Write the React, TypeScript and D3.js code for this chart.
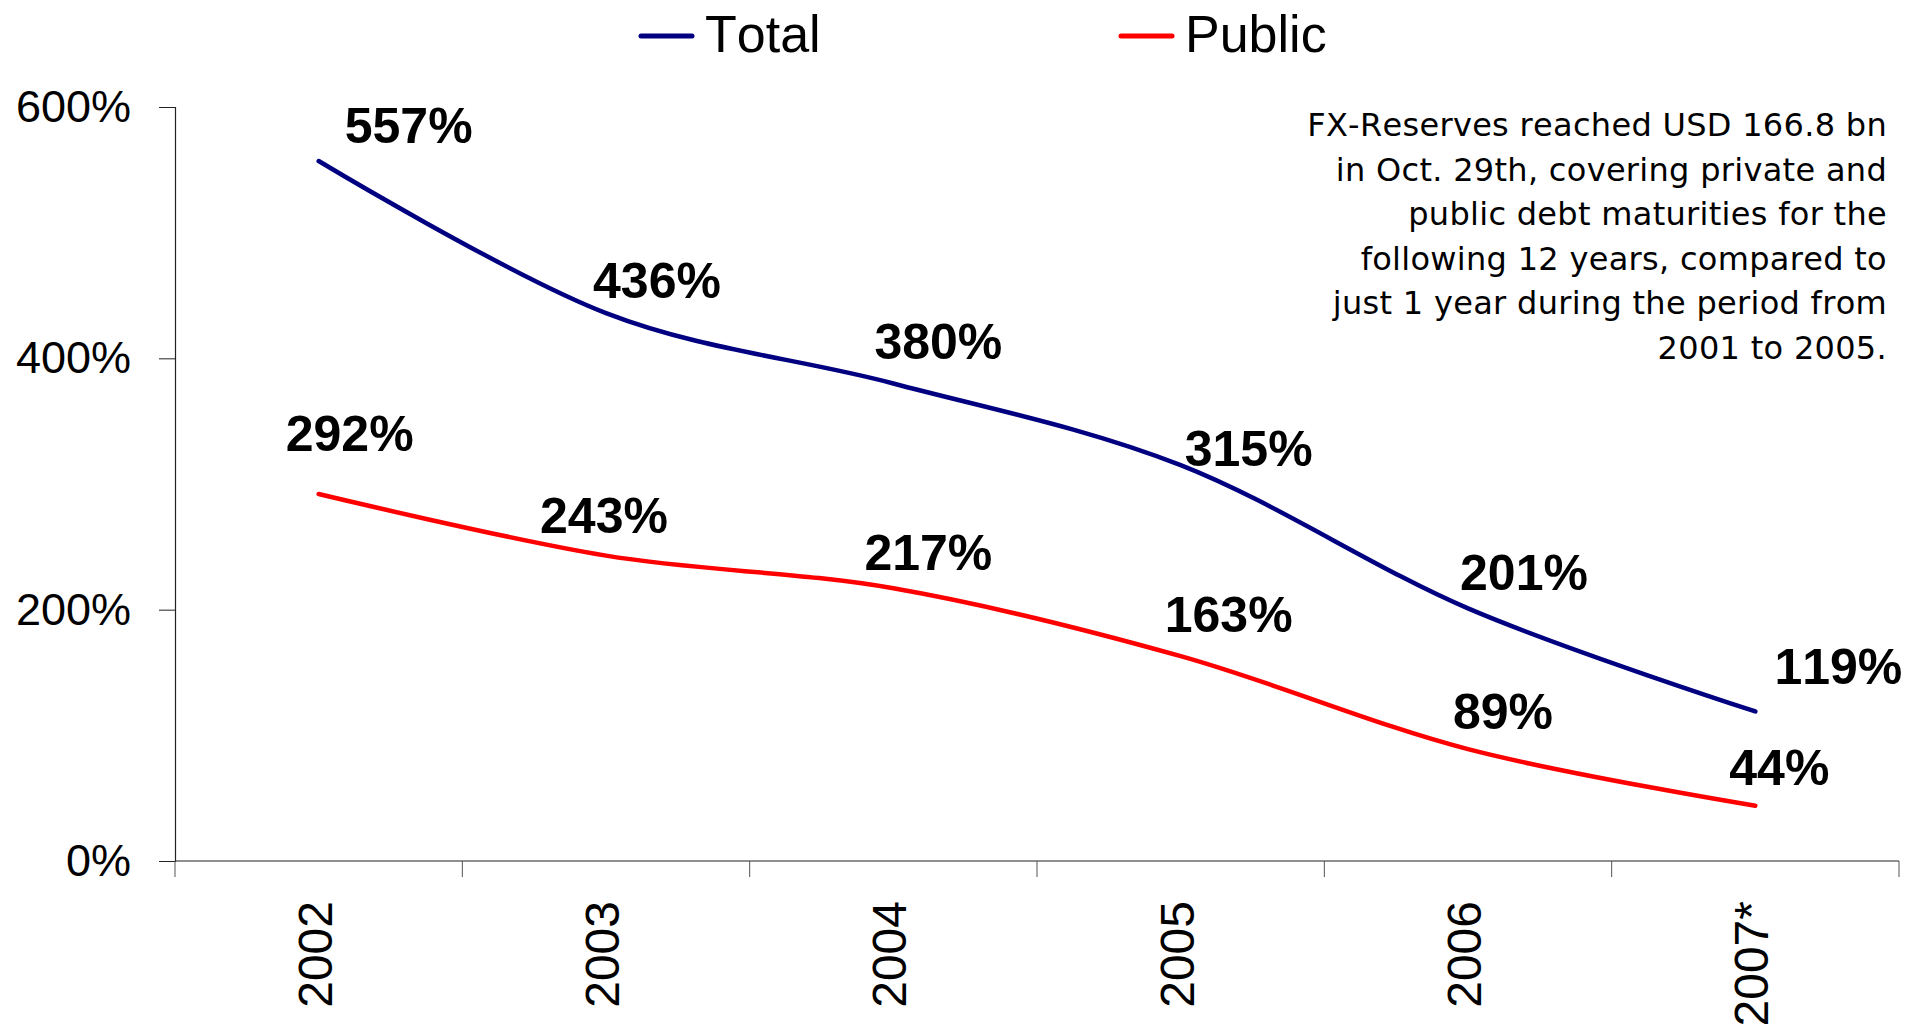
import React, { useEffect, useRef } from "react";
import * as d3 from "d3";

const years = ["2002", "2003", "2004", "2005", "2006", "2007*"];
const totalValues = [557, 436, 380, 315, 201, 119];
const publicValues = [292, 243, 217, 163, 89, 44];
const yTicks = [0, 200, 400, 600];

// label nudges in px (dx, dy from the point)
const totalLabelOffsets = [[90, -18], [51, -15], [45, -24], [68, 1], [56, -18], [83, -27]];
const publicLabelOffsets = [[31, -43], [-2, -23], [35, -18], [48, -24], [35, -20], [24, -21]];

const noteLines = [
  "FX-Reserves reached USD 166.8 bn",
  "in Oct. 29th, covering private and",
  "public debt maturities for the",
  "following 12 years, compared to",
  "just 1 year during the period from",
  "2001 to 2005.",
];

const App = () => {
  const chartRef = useRef(null);

  useEffect(() => {
    const width = 1906;
    const height = 1026;
    const margin = { top: 107, right: 7, bottom: 165, left: 175 };

    d3.select(chartRef.current).selectAll("*").remove();

    const svg = d3
      .select(chartRef.current)
      .append("svg")
      .attr("width", width)
      .attr("height", height)
      .style("display", "block")
      .style("font-family", "'Liberation Sans', Arial, sans-serif")
      .style("font-kerning", "none");

    // Scales
    const xScale = d3.scaleBand().domain(years).range([margin.left, width - margin.right]);
    const yScale = d3.scaleLinear().domain([0, 600]).range([height - margin.bottom, margin.top]);
    const xc = (d) => xScale(d) + xScale.bandwidth() / 2;

    // Y-axis
    const yAxis = svg
      .append("g")
      .attr("transform", `translate(${margin.left}, 0)`)
      .call(d3.axisLeft(yScale).tickValues(yTicks).tickSize(16).tickPadding(28).tickFormat((d) => d + "%"));
    yAxis.select(".domain").attr("stroke", "#222").attr("stroke-width", 1.2);
    yAxis.selectAll(".tick line").attr("stroke", "#222");
    yAxis
      .selectAll(".tick text")
      .attr("font-size", 45)
      .attr("fill", "#000")
      .attr("font-family", "'Liberation Sans', Arial, sans-serif");

    // X-axis, ticks sit on the band edges
    const xAxis = svg.append("g").attr("transform", `translate(0, ${yScale(0)})`);
    xAxis
      .append("line")
      .attr("x1", margin.left)
      .attr("x2", width - margin.right)
      .attr("stroke", "#222")
      .attr("stroke-width", 1.2);
    const edges = years.map((d) => xScale(d)).concat([width - margin.right]);
    xAxis
      .selectAll(".edge")
      .data(edges)
      .enter()
      .append("line")
      .attr("x1", (d) => d)
      .attr("x2", (d) => d)
      .attr("y1", 0)
      .attr("y2", 16)
      .attr("stroke", "#555");
    xAxis
      .selectAll(".lbl")
      .data(years)
      .enter()
      .append("text")
      .attr("transform", (d) => `translate(${xc(d) + 13}, 40) rotate(-90)`)
      .attr("text-anchor", "end")
      .attr("font-size", 48)
      .text((d) => d);

    // Lines
    const line = d3
      .line()
      .x((d, i) => xc(years[i]))
      .y((d) => yScale(d))
      .curve(d3.curveCatmullRom.alpha(0));

    const series = [
      { name: "Total", values: totalValues, color: "#000080", offsets: totalLabelOffsets },
      { name: "Public", values: publicValues, color: "#ff0000", offsets: publicLabelOffsets },
    ];

    series.forEach((s) => {
      svg
        .append("path")
        .datum(s.values)
        .attr("d", line)
        .attr("fill", "none")
        .attr("stroke", s.color)
        .attr("stroke-width", 4.5)
        .attr("stroke-linecap", "round")
        .attr("stroke-linejoin", "round");

      svg
        .selectAll(null)
        .data(s.values)
        .enter()
        .append("text")
        .attr("x", (d, i) => xc(years[i]) + s.offsets[i][0])
        .attr("y", (d, i) => yScale(d) + s.offsets[i][1])
        .attr("text-anchor", "middle")
        .attr("font-size", 50)
        .attr("font-weight", "bold")
        .text((d) => d + "%");
    });

    // Legend
    const legendItems = [
      { name: "Total", color: "#000080", x: 641 },
      { name: "Public", color: "#ff0000", x: 1121 },
    ];
    legendItems.forEach((l) => {
      svg
        .append("line")
        .attr("x1", l.x)
        .attr("x2", l.x + 51)
        .attr("y1", 36)
        .attr("y2", 36)
        .attr("stroke", l.color)
        .attr("stroke-width", 5)
        .attr("stroke-linecap", "round");
      svg
        .append("text")
        .attr("x", l.x + 64)
        .attr("y", 52)
        .attr("font-size", 52)
        .text(l.name);
    });

    // Note in the top right corner
    svg
      .append("text")
      .attr("text-anchor", "end")
      .attr("font-family", "'DejaVu Sans', Verdana, sans-serif")
      .attr("font-size", 32)
      .attr("letter-spacing", 0.3)
      .selectAll("tspan")
      .data(noteLines)
      .enter()
      .append("tspan")
      .attr("x", 1887)
      .attr("y", (d, i) => 136 + i * 44.6)
      .text((d) => d);
  }, []);

  return <div ref={chartRef} style={{ position: "absolute", left: 0, top: 0 }}></div>;
};

export default App;
